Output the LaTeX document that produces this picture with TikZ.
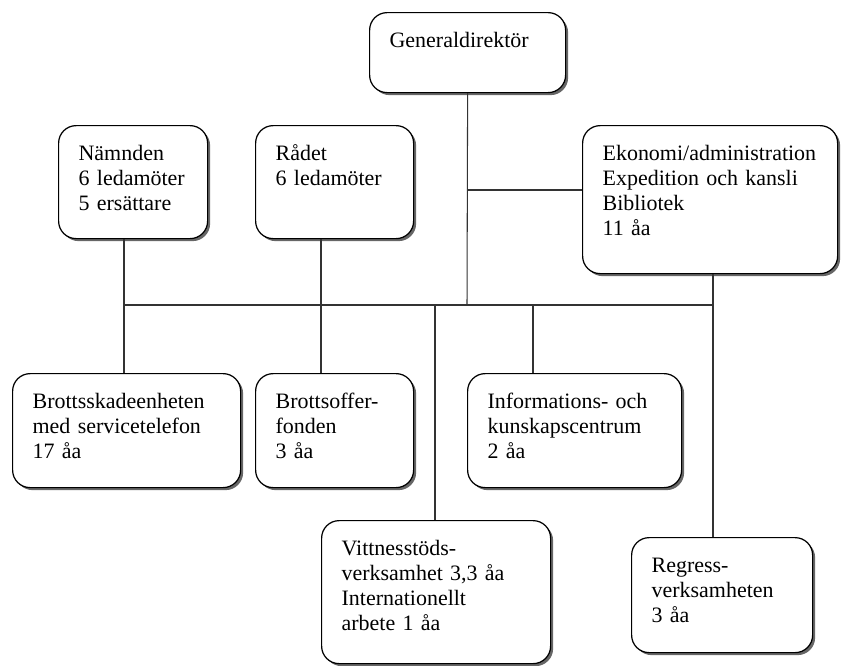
\documentclass[tikz,border=0pt]{standalone}
\usepackage{fontspec}
\setmainfont{Liberation Serif}
\usetikzlibrary{shapes,positioning,shadows}
\hyphenpenalty=10000
\exhyphenpenalty=10000

\begin{document}
\begin{tikzpicture}
    % Stilar
    \tikzstyle{enhet} = [rectangle, draw, fill=white, rounded corners=0.35cm, anchor=north west, align=left, inner xsep=0.4cm, inner ysep=0.2cm, text height=0.5cm, line width=0.7pt, drop shadow={shadow xshift=0.05cm, shadow yshift=-0.05cm, fill=black!60, opacity=1}, font=\fontsize{12.5}{14.2}\selectfont]
    \tikzstyle{line} = [draw, line width=0.6pt, black!80]

    \useasboundingbox (0,0) rectangle (16.9,-13.3);

    % Noder
    \node [enhet, text width=3.12cm, text depth=0.70cm] (gd) at (7.38,-0.24) {Generaldirektör};
    \node [enhet, text width=2.18cm, text depth=1.36cm] (nam) at (1.16,-2.50) {Nämnden\\6 ledamöter\\5 ersättare};
    \node [enhet, text width=2.36cm, text depth=1.36cm] (rad) at (5.10,-2.50) {Rådet\\6 ledamöter};
    \node [enhet, text width=4.30cm, text depth=2.06cm] (ekon) at (11.64,-2.50) {Ekonomi/administration\\Expedition och kansli\\Bibliotek\\11 åa};
    \node [enhet, text width=3.76cm, text depth=1.38cm] (bsk) at (0.24,-7.46) {Brottsskadeenheten\\med servicetelefon\\17 åa};
    \node [enhet, text width=2.36cm, text depth=1.38cm] (bof) at (5.10,-7.46) {Brottsoffer-\\fonden\\3 åa};
    \node [enhet, text width=3.48cm, text depth=1.38cm] (inf) at (9.34,-7.46) {Informations- och\\kunskapscentrum\\2 åa};
    \node [enhet, text width=3.78cm, text depth=1.96cm] (vit) at (6.42,-10.40) {Vittnesstöds-\\verksamhet 3,3 åa\\Internationellt\\arbete 1 åa};
    \node [enhet, text width=2.82cm, text depth=1.40cm] (reg) at (12.62,-10.74) {Regress-\\verksamheten\\3 åa};

    % Knutpunkter
    \coordinate (gren) at (9.34,-3.80);
    \coordinate (k1) at (2.48,-6.10);
    \coordinate (k2) at (6.42,-6.10);
    \coordinate (k3) at (8.70,-6.10);
    \coordinate (k4) at (9.34,-6.10);
    \coordinate (k5) at (10.66,-6.10);
    \coordinate (k6) at (14.26,-6.10);

    % Linjer
    \path [line] (gd.south) -- (k4);
    \path [line] (gren) -- (gren -| ekon.west);
    \path [line] (k1) -- (k6);
    \path [line] (nam.south -| k1) -- (k1 |- bsk.north);
    \path [line] (rad.south -| k2) -- (k2 |- bof.north);
    \path [line] (k3) -- (k3 |- vit.north);
    \path [line] (k5) -- (k5 |- inf.north);
    \path [line] (ekon.south -| k6) -- (k6 |- reg.north);
\end{tikzpicture}
\end{document}
